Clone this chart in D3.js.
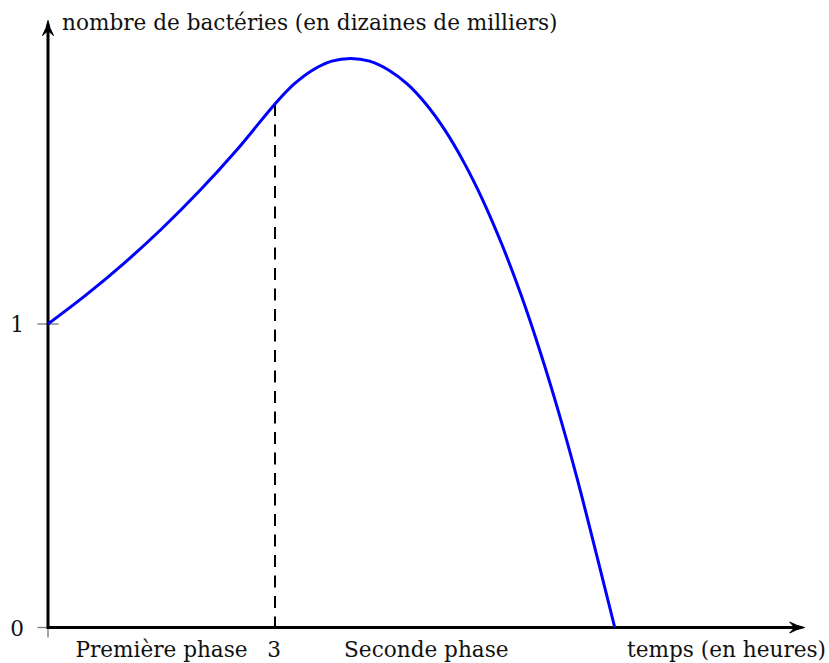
<!DOCTYPE html>
<html>
<head>
<meta charset="utf-8">
<script src="https://cdn.jsdelivr.net/npm/d3@7"></script>
<style>
  body { margin: 0; background: #fff; }
  text { font-family: "DejaVu Serif", serif; fill: #111; }
</style>
</head>
<body>
<div id="chart"></div>
<script>
// values (t in hours, n in tens of thousands)
const phase1T = [0, 0.5, 1, 1.5, 2, 2.5, 3];
const phase1N = [1.0, 1.095, 1.199, 1.313, 1.438, 1.575, 1.725];
const phase2T = [3, 3.25, 3.5, 3.75, 4, 4.25, 4.5, 4.75, 5, 5.25, 5.5, 5.75, 6, 6.25, 6.5, 6.75, 7, 7.25, 7.49];
const phase2N = [1.725, 1.79, 1.837, 1.866, 1.875, 1.866, 1.837, 1.79, 1.723, 1.637, 1.531, 1.406, 1.261, 1.097, 0.912, 0.708, 0.484, 0.239, 0];
const yTicks = [0, 1];
const xMarks = [3];
const phaseNames = ["Première phase", "Seconde phase"];
const phaseCenters = [1.5, 5];
const yTitle = "nombre de bactéries (en dizaines de milliers)";
const xTitle = "temps (en heures)";

const width = 829, height = 663;

const x = d3.scaleLinear().domain([0, 10]).range([48, 804.7]);
const y = d3.scaleLinear().domain([0, 2]).range([627.5, 20.5]);

const svg = d3.select("#chart")
  .append("svg")
  .attr("width", width)
  .attr("height", height);

// ticks (grey crosses)
svg.selectAll("line.ytick")
  .data(yTicks)
  .enter()
  .append("line")
  .attr("class", "ytick")
  .attr("x1", x(0) - 10.5)
  .attr("x2", x(0) + 10.5)
  .attr("y1", d => y(d))
  .attr("y2", d => y(d))
  .style("stroke", "#808080")
  .style("stroke-width", 1.4);

svg.append("line")
  .attr("x1", x(0))
  .attr("x2", x(0))
  .attr("y1", y(0) - 10)
  .attr("y2", y(0) + 10)
  .style("stroke", "#808080")
  .style("stroke-width", 1.4);

// one list of points for both phases
const combined = phase1T.map((t, i) => ({ t, n: phase1N[i] }))
  .concat(phase2T.slice(1).map((t, i) => ({ t, n: phase2N[i + 1] })));

// dashed line at t = 3
xMarks.forEach(m => {
  const pt = combined.find(d => d.t === m);
  svg.append("line")
    .attr("x1", x(m))
    .attr("x2", x(m))
    .attr("y1", y(pt.n))
    .attr("y2", y(0))
    .style("stroke", "#000")
    .style("stroke-width", 2)
    .style("stroke-dasharray", "12,8.5");
});

// axes
svg.append("line")
  .attr("x1", x(0)).attr("x2", x(10) - 10)
  .attr("y1", y(0)).attr("y2", y(0))
  .style("stroke", "#000").style("stroke-width", 3);

svg.append("line")
  .attr("x1", x(0)).attr("x2", x(0))
  .attr("y1", y(0) + 1.5).attr("y2", y(2) + 10)
  .style("stroke", "#000").style("stroke-width", 3);

// arrow heads
const arrow = "M0,0 Q-1.5,8 -5.5,15 Q-1.5,11 0,11 Q1.5,11 5.5,15 Q1.5,8 0,0 Z";
svg.append("path")
  .attr("d", arrow)
  .attr("transform", "translate(" + x(0) + "," + y(2) + ")")
  .style("fill", "#000").style("stroke", "#000").style("stroke-width", 1);
svg.append("path")
  .attr("d", arrow)
  .attr("transform", "translate(" + x(10) + "," + y(0) + ") rotate(90)")
  .style("fill", "#000").style("stroke", "#000").style("stroke-width", 1);

// the curve
const line = d3.line()
  .x(d => x(d.t))
  .y(d => y(d.n))
  .curve(d3.curveCatmullRom.alpha(0.5));

svg.append("path")
  .datum(combined)
  .attr("d", line)
  .style("fill", "none")
  .style("stroke", "#0000ff")
  .style("stroke-width", 3)
  .style("stroke-linejoin", "round");

// labels
const fs = 21.6;
svg.selectAll("text.ylab")
  .data(yTicks)
  .enter()
  .append("text")
  .attr("class", "ylab")
  .attr("x", 24)
  .attr("y", d => y(d) + 8)
  .attr("text-anchor", "end")
  .style("font-size", fs + "px")
  .text(d => d);

svg.selectAll("text.xlab")
  .data(xMarks)
  .enter()
  .append("text")
  .attr("class", "xlab")
  .attr("x", d => x(d) - 1)
  .attr("y", 657)
  .attr("text-anchor", "middle")
  .style("font-size", fs + "px")
  .text(d => d);

svg.selectAll("text.phase")
  .data(phaseNames)
  .enter()
  .append("text")
  .attr("class", "phase")
  .attr("x", (d, i) => x(phaseCenters[i]))
  .attr("y", 657)
  .attr("text-anchor", "middle")
  .style("font-size", fs + "px")
  .text(d => d);

svg.append("text")
  .attr("x", 826)
  .attr("y", 657)
  .attr("text-anchor", "end")
  .style("font-size", fs + "px")
  .text(xTitle);

svg.append("text")
  .attr("x", 62)
  .attr("y", 30)
  .style("font-size", fs + "px")
  .text(yTitle);
</script>
</body>
</html>
